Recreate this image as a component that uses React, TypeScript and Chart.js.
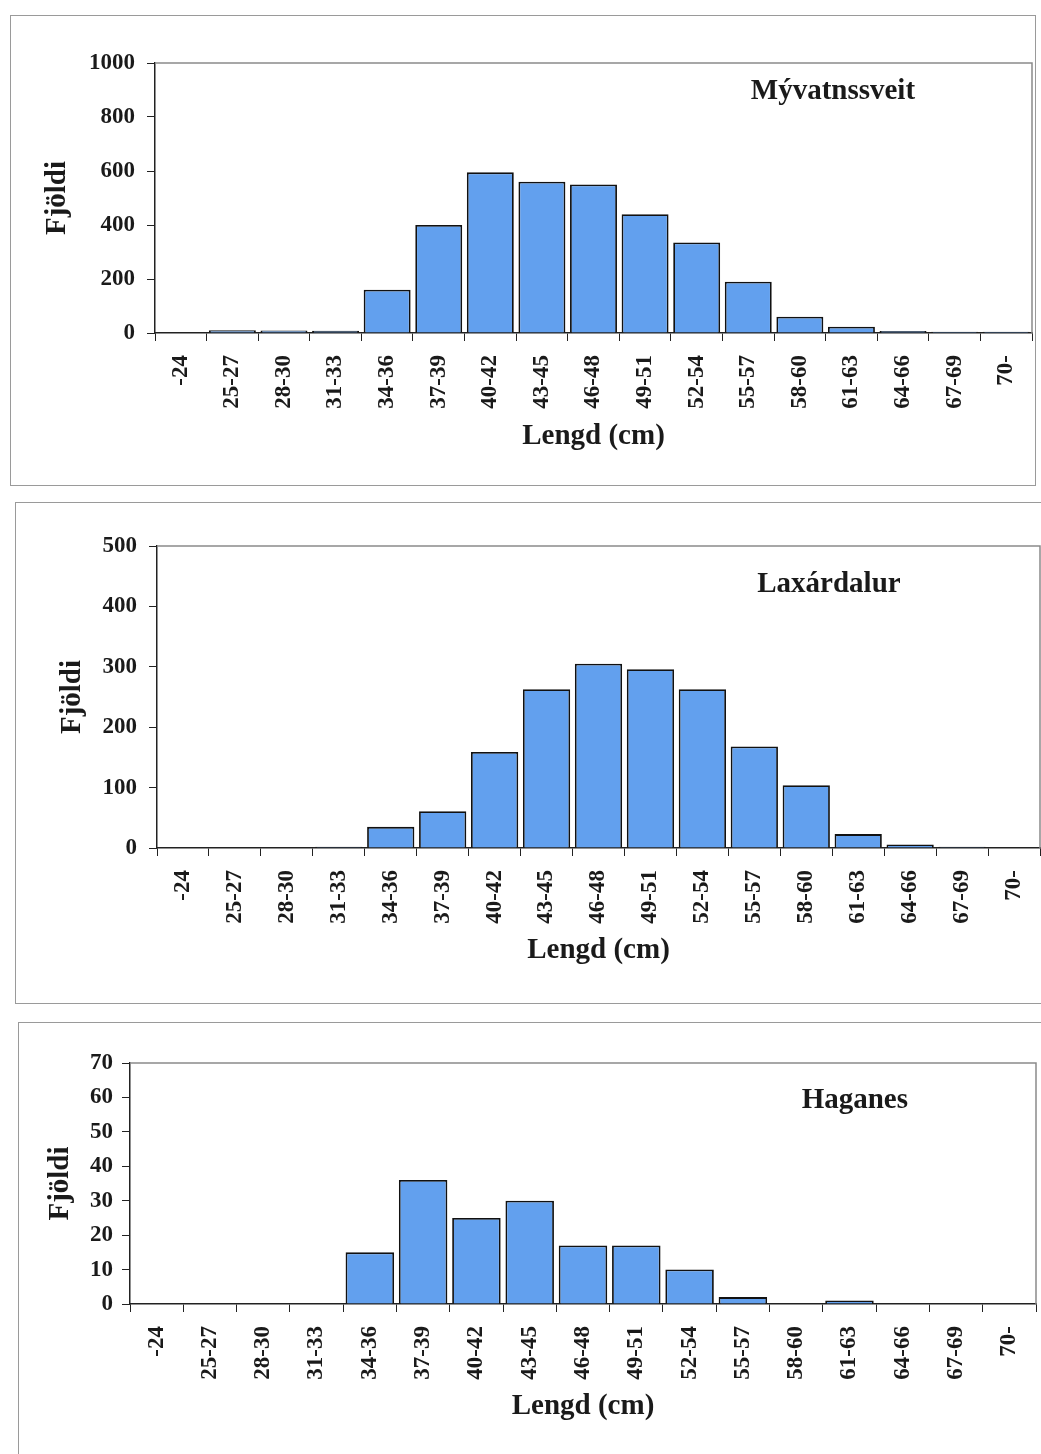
import React, { useEffect, useRef } from "react";
import { Chart, registerables } from "chart.js";

Chart.register(...registerables);

// ---- data ----
const lengthClasses = [
  "-24", "25-27", "28-30", "31-33", "34-36", "37-39", "40-42", "43-45", "46-48",
  "49-51", "52-54", "55-57", "58-60", "61-63", "64-66", "67-69", "70-",
];
const myvatnssveitCounts = [0, 10, 9, 8, 160, 400, 595, 560, 550, 440, 335, 190, 60, 23, 7, 5, 5];
const laxardalurCounts = [0, 0, 0, 2, 35, 61, 159, 263, 305, 296, 263, 168, 104, 23, 6, 2, 0];
const haganesCounts = [0, 0, 0, 0, 15, 36, 25, 30, 17, 17, 10, 2, 0, 1, 0, 0, 0];

const myvatnssveitAxis = { max: 1000, step: 200 };
const laxardalurAxis = { max: 500, step: 100 };
const haganesAxis = { max: 70, step: 10 };

const xTitleText = "Lengd (cm)";
const yTitleText = "Fjöldi";

// ---- styles ----
const FONT = '"Liberation Serif", "Times New Roman", serif';
const TEXT = "#1a1a1a";
const BAR = "#62a0ee";

const plotFrame = {
  id: "plotFrame",
  afterDraw(chart: any, _args: any, opts: any) {
    const { ctx, chartArea } = chart;
    const { left, top, right, bottom } = chartArea;
    ctx.save();
    ctx.strokeStyle = "#8a8a8a";
    ctx.lineWidth = 1.5;
    ctx.beginPath();
    ctx.moveTo(left, top);
    ctx.lineTo(right, top);
    ctx.lineTo(right, bottom);
    ctx.stroke();
    ctx.font = `bold 29px ${FONT}`;
    ctx.fillStyle = TEXT;
    ctx.textAlign = "center";
    ctx.textBaseline = "middle";
    ctx.fillText(opts.text, left + opts.xFrac * (right - left), top + opts.dy);
    ctx.restore();
  },
};

type PanelProps = {
  canvasRect: { left: number; top: number; width: number; height: number };
  frameRect: { left: number; top: number; width: number; height: number };
  values: number[];
  axis: { max: number; step: number };
  name: string;
  nameXFrac: number;
  nameDy: number;
  padTop: number;
  padRight: number;
  yWidth: number;
  xHeight: number;
  xTitlePad: number;
  yTitlePad: number;
  yTickPad: number;
};

function Panel(p: PanelProps) {
  const ref = useRef<HTMLCanvasElement | null>(null);
  useEffect(() => {
    if (!ref.current) return;
    const tickFont = { family: FONT, size: 23, weight: "bold" as const };
    const titleFont = { family: FONT, size: 29, weight: "bold" as const };
    const chart = new Chart(ref.current, {
      type: "bar",
      data: {
        labels: lengthClasses,
        datasets: [
          {
            data: p.values,
            backgroundColor: BAR,
            borderColor: "#111",
            borderWidth: 1.8,
            borderSkipped: "bottom",
            barPercentage: 0.91,
            categoryPercentage: 1,
          },
        ],
      },
      options: {
        responsive: false,
        animation: false,
        layout: { padding: { top: p.padTop, right: p.padRight, left: 0, bottom: 0 } },
        plugins: {
          legend: { display: false },
          tooltip: { enabled: false },
          // @ts-ignore
          plotFrame: { text: p.name, xFrac: p.nameXFrac, dy: p.nameDy },
        },
        scales: {
          x: {
            grid: {
              display: true,
              drawOnChartArea: false,
              drawTicks: true,
              tickLength: 8,
              color: "#222",
              offset: true,
            },
            border: { display: true, color: "#222", width: 1.5 },
            ticks: {
              autoSkip: false,
              maxRotation: 90,
              minRotation: 90,
              padding: 14,
              color: TEXT,
              font: tickFont,
            },
            title: {
              display: true,
              text: xTitleText,
              color: TEXT,
              font: titleFont,
              padding: { top: 0, bottom: p.xTitlePad },
            },
            afterFit(scale: any) {
              scale.height = p.xHeight;
              scale.paddingLeft = 0;
              scale.paddingRight = 0;
            },
          },
          y: {
            min: 0,
            max: p.axis.max,
            grid: {
              display: true,
              drawOnChartArea: false,
              drawTicks: true,
              tickLength: 8,
              color: "#222",
            },
            border: { display: true, color: "#222", width: 1.5 },
            ticks: {
              stepSize: p.axis.step,
              padding: p.yTickPad,
              color: TEXT,
              font: tickFont,
              callback: (v: any) => String(v),
            },
            title: {
              display: true,
              text: yTitleText,
              color: TEXT,
              font: titleFont,
              padding: { top: p.yTitlePad, bottom: 0 },
            },
            afterFit(scale: any) {
              scale.width = p.yWidth;
              scale.paddingTop = 0;
              scale.paddingBottom = 0;
            },
          },
        },
      },
      plugins: [plotFrame],
    });
    return () => chart.destroy();
  }, []);

  return (
    <>
      <div
        style={{
          position: "absolute",
          left: p.frameRect.left,
          top: p.frameRect.top,
          width: p.frameRect.width,
          height: p.frameRect.height,
          border: "1.5px solid #9a9a9a",
          boxSizing: "border-box",
        }}
      />
      <canvas
        ref={ref}
        width={p.canvasRect.width}
        height={p.canvasRect.height}
        style={{
          position: "absolute",
          left: p.canvasRect.left,
          top: p.canvasRect.top,
          width: p.canvasRect.width,
          height: p.canvasRect.height,
        }}
      />
    </>
  );
}

export default function App() {
  return (
    <div
      style={{
        position: "absolute",
        left: 0,
        top: 0,
        width: 1041,
        height: 1454,
        overflow: "hidden",
        background: "#fff",
      }}
    >
      <Panel
        frameRect={{ left: 10, top: 15, width: 1026, height: 471 }}
        canvasRect={{ left: 10, top: 15, width: 1025, height: 470 }}
        values={myvatnssveitCounts}
        axis={myvatnssveitAxis}
        name="Mývatnssveit"
        nameXFrac={0.773}
        nameDy={29}
        padTop={48}
        padRight={3}
        yWidth={145}
        xHeight={152}
        xTitlePad={31}
        yTitlePad={30}
        yTickPad={12}
      />
      <Panel
        frameRect={{ left: 15, top: 502, width: 1040, height: 502 }}
        canvasRect={{ left: 15, top: 502, width: 1026, height: 501 }}
        values={laxardalurCounts}
        axis={laxardalurAxis}
        name="Laxárdalur"
        nameXFrac={0.761}
        nameDy={39}
        padTop={44}
        padRight={1}
        yWidth={142}
        xHeight={155}
        xTitlePad={35}
        yTitlePad={40}
        yTickPad={12}
      />
      <Panel
        frameRect={{ left: 18, top: 1022, width: 1040, height: 450 }}
        canvasRect={{ left: 18, top: 1022, width: 1023, height: 432 }}
        values={haganesCounts}
        axis={haganesAxis}
        name="Haganes"
        nameXFrac={0.8}
        nameDy={38}
        padTop={41}
        padRight={5}
        yWidth={112}
        xHeight={150}
        xTitlePad={30}
        yTitlePad={25}
        yTickPad={9}
      />
    </div>
  );
}
